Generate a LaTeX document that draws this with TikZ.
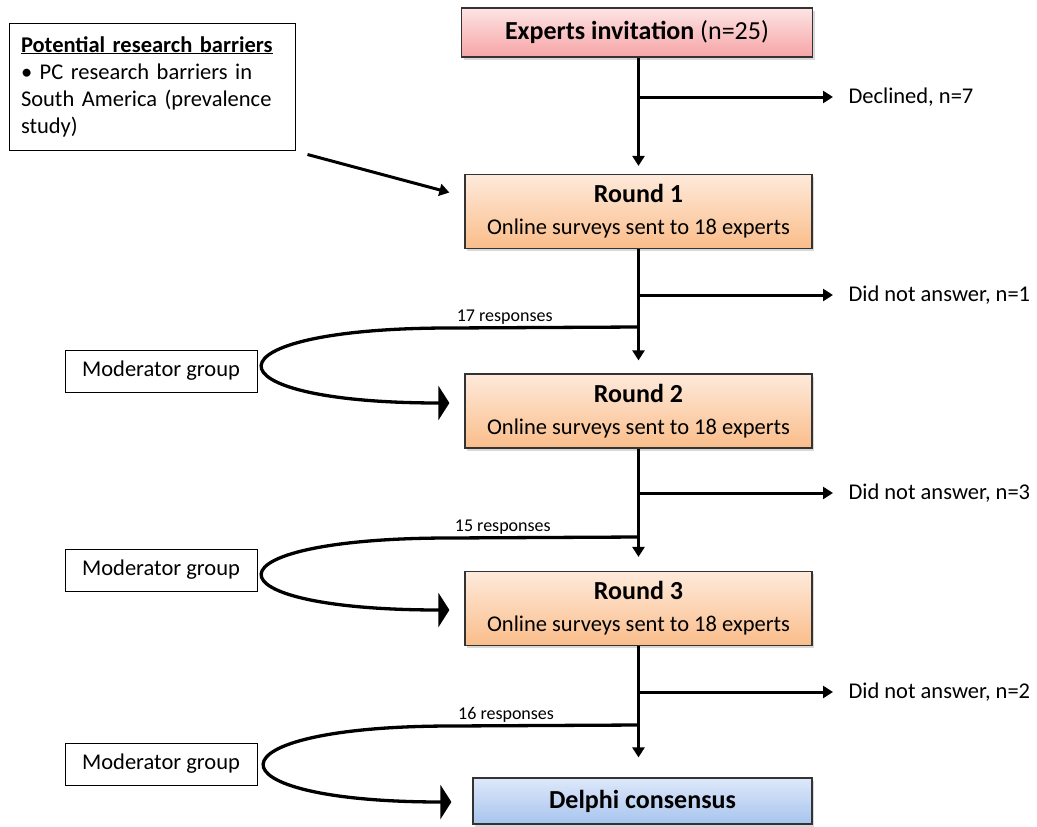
\documentclass[tikz,border=0pt]{standalone}
\usepackage{fontspec}
\setmainfont{Carlito}
\usepackage{tikz}
\usetikzlibrary{arrows.meta}
\usetikzlibrary{shadows}
\definecolor{invtop}{HTML}{FDE4E4}
\definecolor{invbot}{HTML}{F6A4A6}
\definecolor{roundtop}{HTML}{FEEADB}
\definecolor{roundbot}{HTML}{FABD8A}
\definecolor{contop}{HTML}{DEE8FA}
\definecolor{conbot}{HTML}{A7C4EE}

\begin{document}
\begin{tikzpicture}
[
x=1pt, y=-1pt,
state/.style={rectangle, draw=black!80, line width=1.2pt, align=center, font=\fontsize{22.5}{32}\selectfont, drop shadow={shadow xshift=2pt, shadow yshift=-2.5pt, opacity=0.3}},
round/.style={state, minimum width=347pt, minimum height=74pt, top color=roundtop, bottom color=roundbot},
note/.style={rectangle, draw, line width=1pt, font=\fontsize{22.5}{27}\selectfont},
text-a/.style={black, anchor=west, font=\fontsize{22.5}{27}\selectfont},
text-b/.style={above, inner sep=2pt, font=\fontsize{18}{20}\selectfont},
flow/.style={line width=3pt, -{Triangle[length=10pt,width=12pt]}},
back/.style={line width=3.3pt, -{Triangle[length=11pt,width=34pt]}},
]
\useasboundingbox (0,0) rectangle (1037,827);
\node (inv) [state, minimum width=351pt, minimum height=49pt, top color=invtop, bottom color=invbot, font=\fontsize{26}{30}\selectfont] at (637,32.5) {\textbf{Experts invitation} (n=25)};
\node (r1) [round] at (638.5,211.5) {{\fontsize{26}{32}\selectfont\bfseries Round 1}\\Online surveys sent to 18 experts};
\node (r2) [round] at (638.5,411) {{\fontsize{26}{32}\selectfont\bfseries Round 2}\\Online surveys sent to 18 experts};
\node (r3) [round] at (638.5,608.5) {{\fontsize{26}{32}\selectfont\bfseries Round 3}\\Online surveys sent to 18 experts};
\node (con) [state, minimum width=339pt, minimum height=46pt, top color=contop, bottom color=conbot, font=\fontsize{26}{30}\selectfont\bfseries] at (642.5,801) {Delphi consensus};
\node (bar) [note, text width=262pt, minimum height=127pt, align=left, inner sep=12pt] at (152,86.5) {\textbf{\underline{Potential research barriers}}\\• PC research barriers in\\South America (prevalence\\study)};
\node (mod1) [note, minimum width=192pt, minimum height=42pt] at (161,371) {Moderator group};
\node (mod2) [note, minimum width=192pt, minimum height=42pt] at (161,570) {Moderator group};
\node (mod3) [note, minimum width=192pt, minimum height=42pt] at (161,764) {Moderator group};
\node (dec) [text-a] at (845,97) {Declined, n=7};
\node (na1) [text-a] at (845,295) {Did not answer, n=1};
\node (na2) [text-a] at (845,493) {Did not answer, n=3};
\node (na3) [text-a] at (845,692) {Did not answer, n=2};
% main column
\draw [flow] (inv.south -| r1.north) -- ([yshift=8pt]r1.north);
\draw [flow] (r1.south) -- ([yshift=13pt]r2.north);
\draw [flow] (r2.south) -- ([yshift=14pt]r3.north);
\coordinate (c3) at (r3.south |- con.north);
\draw [flow] (r3.south) -- ([yshift=20pt]c3);
% drop outs
\draw [flow] (r1.north |- dec.west) -- ([xshift=-12pt]dec.west);
\draw [flow] (r1.south |- na1.west) -- ([xshift=-12pt]na1.west);
\draw [flow] (r2.south |- na2.west) -- ([xshift=-12pt]na2.west);
\draw [flow] (r3.south |- na3.west) -- ([xshift=-12pt]na3.west);
\draw [flow] ([xshift=12pt,yshift=-4pt]bar.south east) -- ([xshift=-15pt,yshift=19pt]r1.west);
% feedback through moderators
\coordinate (j1) at (638.5,327);
\coordinate (j2) at (638.5,537);
\coordinate (j3) at (638.5,725);
\draw [back] (j1) -- node [text-b, pos=0.71] {17 responses} (450,328) .. controls (200,328) and (200,403) .. ([xshift=-15pt,yshift=8pt]r2.west);
\draw [back] (j2) -- node [text-b, pos=0.72] {15 responses} (450,538) .. controls (200,538) and (200,610) .. ([xshift=-15pt,yshift=-1.5pt]r3.west);
\draw [back] (j3) -- node [text-b, pos=0.71] {16 responses} (452,726) .. controls (202,726) and (202,802) .. ([xshift=-21pt,yshift=-1pt]con.west);
\end{tikzpicture}
\end{document}
